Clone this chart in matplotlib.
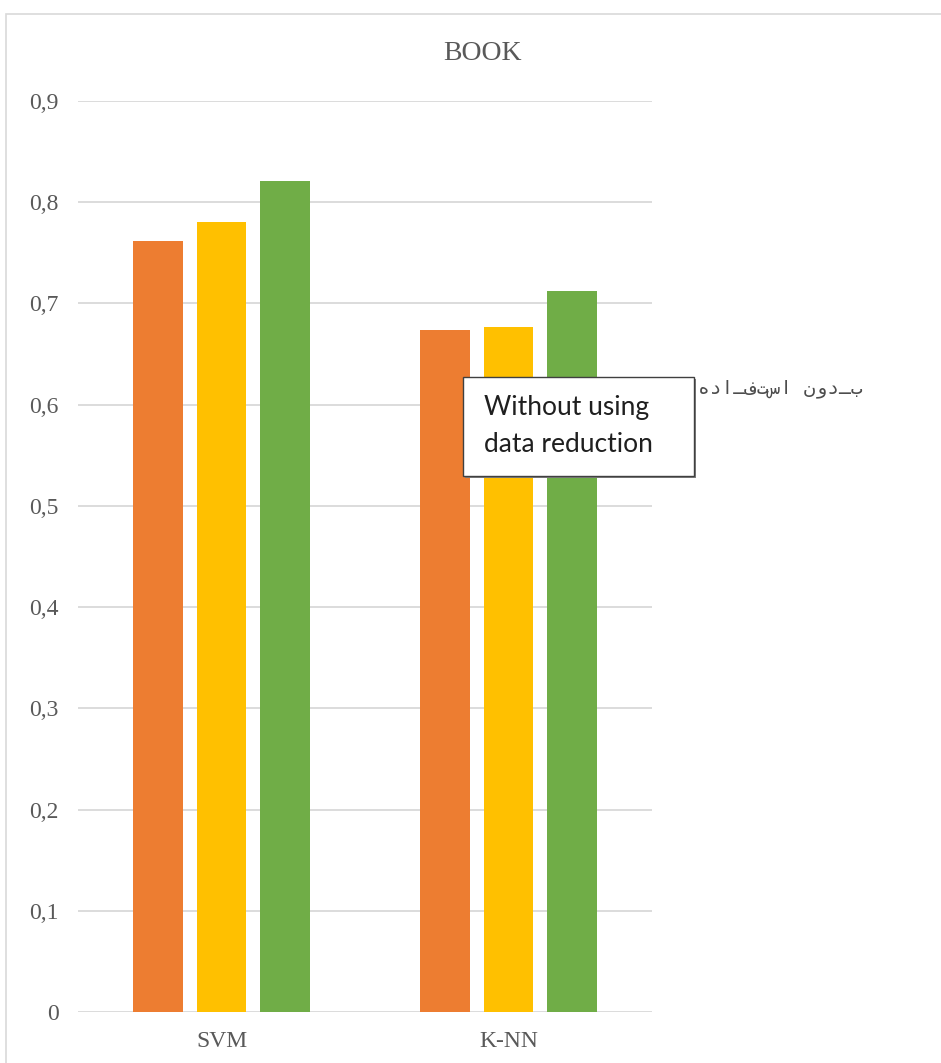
import matplotlib.pyplot as plt
import numpy as np
from matplotlib.patches import Rectangle

# data
categories = ["SVM", "K-NN"]
series_1 = [0.762, 0.674]   # orange
series_2 = [0.780, 0.677]   # yellow
series_3 = [0.821, 0.712]   # green
yticks = [0, 0.1, 0.2, 0.3, 0.4, 0.5, 0.6, 0.7, 0.8, 0.9]
ytick_labels = ["0", "0,1", "0,2", "0,3", "0,4", "0,5", "0,6", "0,7", "0,8", "0,9"]
title = "BOOK"
box_text = "Without using\ndata reduction"
arabic_text = "بـدون استفـاده"

colors = ["#ED7D31", "#FFC000", "#70AD47"]
W, H = 941, 1063

fig = plt.figure(figsize=(W / 100, H / 100), dpi=100)
fig.patch.set_facecolor("white")

# chart area frame (runs off the right/bottom of the picture)
fig.patches.append(Rectangle((6 / W, -0.05), 1.0, 1 - 14 / H + 0.05,
                             transform=fig.transFigure, fill=False,
                             edgecolor="#D9D9D9", linewidth=1.2))

ax = fig.add_axes([78 / W, 1 - 1012 / H, (652 - 78) / W, (1012 - 101) / H])
x = np.arange(len(categories))
bw = 0.174
offs = [-0.221, 0.0, 0.221]
for vals, off, c in zip([series_1, series_2, series_3], offs, colors):
    ax.bar(x + off, vals, width=bw, color=c, edgecolor="none", zorder=3)

ax.set_xlim(-0.5, 1.5)
ax.set_ylim(0, 0.9)
ax.set_yticks(yticks)
ax.set_yticklabels(ytick_labels)
ax.set_xticks(x)
ax.set_xticklabels(categories)
ax.yaxis.grid(True, color="#D9D9D9", linewidth=1.3, zorder=0)
ax.set_axisbelow(True)
for s in ax.spines.values():
    s.set_visible(False)
ax.tick_params(axis="both", length=0, labelsize=17, labelcolor="#595959")
ax.tick_params(axis="y", pad=14)
ax.tick_params(axis="x", pad=14)
for lab in ax.get_xticklabels() + ax.get_yticklabels():
    lab.set_family("Liberation Serif")

fig.text(482 / W, 1 - 53 / H, title, ha="center", va="center",
         fontsize=20, color="#595959", family="Liberation Serif")

# arabic label (sits partly behind the text box); matplotlib draws LTR, so reverse
fig.text(862 / W, 1 - 388 / H, arabic_text[::-1], ha="right", va="center",
         fontsize=14, color="#4D4D4D", family=["DejaVu Sans Mono", "DejaVu Sans"],
         zorder=1)

# text box with small shadow
fig.patches.append(Rectangle((465 / W, 1 - 478 / H), 231 / W, 99 / H,
                             transform=fig.transFigure, facecolor="#7F7F7F",
                             edgecolor="none", zorder=4))
fig.patches.append(Rectangle((463 / W, 1 - 476 / H), 231 / W, 99 / H,
                             transform=fig.transFigure, facecolor="white",
                             edgecolor="#404040", linewidth=1, zorder=5))
fig.text(484 / W, 1 - 426 / H, box_text, ha="left", va="center",
         fontsize=19, color="#1F1F1F", family="Lato", linespacing=1.6, zorder=6)

fig.savefig("out.png", dpi=100)
